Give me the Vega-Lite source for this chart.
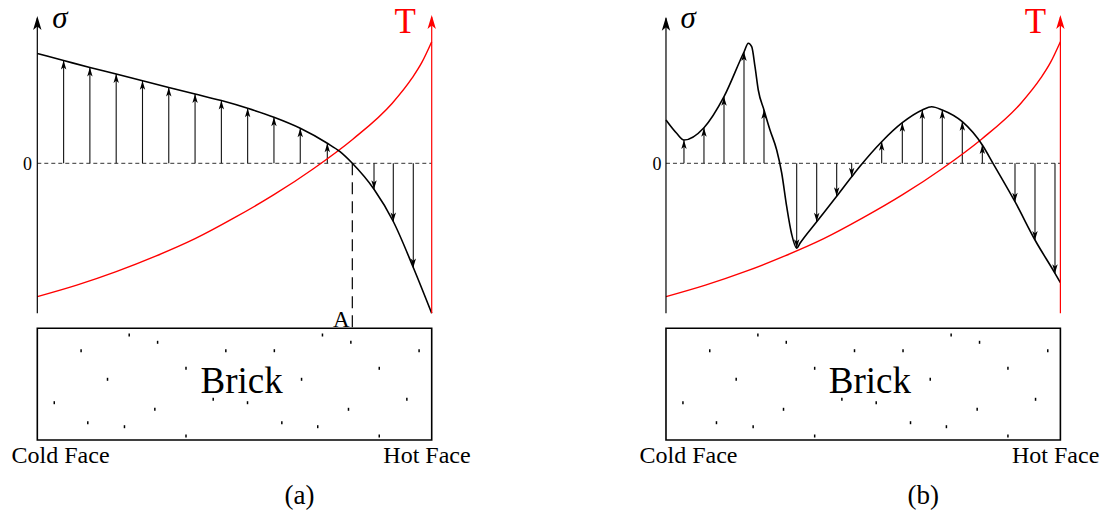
{
  "$schema": "https://vega.github.io/schema/vega-lite/v6.json",
  "padding": 0,
  "spacing": 0,
  "bounds": "flush",
  "config": {
    "font": "Liberation Serif, serif",
    "view": {"stroke": null},
    "concat": {"spacing": 0}
  },
  "datasets": {
    "temp": [
      {"u": 0, "s": -1.334}, {"u": 0.1, "s": -1.219}, {"u": 0.2, "s": -1.084},
      {"u": 0.3, "s": -0.929}, {"u": 0.4, "s": -0.754}, {"u": 0.5, "s": -0.544},
      {"u": 0.6, "s": -0.314}, {"u": 0.7, "s": -0.054}, {"u": 0.8, "s": 0.241},
      {"u": 0.9, "s": 0.601}, {"u": 0.95, "s": 0.851}, {"u": 0.975, "s": 1.009},
      {"u": 1.0, "s": 1.216}
    ],
    "dots": [
      {"u": 0.233, "s": -1.717}, {"u": 0.305, "s": -1.79}, {"u": 0.111, "s": -1.874},
      {"u": 0.478, "s": -1.874}, {"u": 0.601, "s": -1.874}, {"u": 0.723, "s": -1.717},
      {"u": 0.795, "s": -1.79}, {"u": 0.968, "s": -1.874}, {"u": 0.377, "s": -2.05},
      {"u": 0.178, "s": -2.16}, {"u": 0.67, "s": -2.16}, {"u": 0.867, "s": -2.05},
      {"u": 0.043, "s": -2.394}, {"u": 0.446, "s": -2.36}, {"u": 0.533, "s": -2.394},
      {"u": 0.298, "s": -2.46}, {"u": 0.789, "s": -2.46}, {"u": 0.937, "s": -2.36},
      {"u": 0.128, "s": -2.594}, {"u": 0.221, "s": -2.634}, {"u": 0.62, "s": -2.594},
      {"u": 0.711, "s": -2.634}, {"u": 0.377, "s": -2.727}, {"u": 0.867, "s": -2.727}
    ],
    "stressA": [
      {"u": 0, "s": 1.098},
      {"u": 0.0667, "s": 1.028, "dir": "up"}, {"u": 0.1333, "s": 0.958, "dir": "up"},
      {"u": 0.2, "s": 0.893, "dir": "up"}, {"u": 0.2667, "s": 0.825, "dir": "up"},
      {"u": 0.3333, "s": 0.758, "dir": "up"}, {"u": 0.4, "s": 0.693, "dir": "up"},
      {"u": 0.4667, "s": 0.627, "dir": "up"}, {"u": 0.5333, "s": 0.55, "dir": "up"},
      {"u": 0.6, "s": 0.46, "dir": "up"}, {"u": 0.6667, "s": 0.35, "dir": "up"},
      {"u": 0.7353, "s": 0.2, "dir": "up"},
      {"u": 0.7675, "s": 0.116}, {"u": 0.7987, "s": 0},
      {"u": 0.8537, "s": -0.26, "dir": "down"}, {"u": 0.9026, "s": -0.582, "dir": "down"},
      {"u": 0.9533, "s": -1.042, "dir": "down"},
      {"u": 1.0, "s": -1.5}
    ],
    "stressB": [
      {"u": 0, "s": 0.433}, {"u": 0.0271, "s": 0.3},
      {"u": 0.0456, "s": 0.233, "dir": "up"}, {"u": 0.0963, "s": 0.356, "dir": "up"},
      {"u": 0.1471, "s": 0.666, "dir": "up"}, {"u": 0.1978, "s": 1.113, "dir": "up"},
      {"u": 0.2087, "s": 1.2}, {"u": 0.2173, "s": 1.166}, {"u": 0.2257, "s": 0.966},
      {"u": 0.234, "s": 0.733}, {"u": 0.2485, "s": 0.533, "dir": "up"},
      {"u": 0.2637, "s": 0.333}, {"u": 0.2807, "s": 0.133}, {"u": 0.2934, "s": -0.097},
      {"u": 0.3061, "s": -0.434}, {"u": 0.3187, "s": -0.71},
      {"u": 0.3314, "s": -0.85, "dir": "down"}, {"u": 0.3398, "s": -0.8},
      {"u": 0.3821, "s": -0.585, "dir": "down"}, {"u": 0.4328, "s": -0.33, "dir": "down"},
      {"u": 0.4708, "s": -0.135, "dir": "down"}, {"u": 0.4919, "s": -0.03},
      {"u": 0.5469, "s": 0.216, "dir": "up"}, {"u": 0.5992, "s": 0.406, "dir": "up"},
      {"u": 0.6499, "s": 0.533, "dir": "up"}, {"u": 0.6737, "s": 0.566},
      {"u": 0.7006, "s": 0.533, "dir": "up"}, {"u": 0.7513, "s": 0.416, "dir": "up"},
      {"u": 0.8021, "s": 0.183, "dir": "up"}, {"u": 0.8291, "s": 0},
      {"u": 0.8849, "s": -0.384, "dir": "down"}, {"u": 0.9356, "s": -0.767, "dir": "down"},
      {"u": 0.9863, "s": -1.1, "dir": "down"}, {"u": 1.0, "s": -1.194}
    ]
  },
  "hconcat": [
    {
      "width": 552,
      "height": 512,
      "layer": [
        {
          "data": {"values": [{}]},
          "mark": {"type": "rule", "color": "#333", "strokeWidth": 1, "strokeDash": [4, 3]},
          "encoding": {
            "x": {"datum": 0, "type": "quantitative", "scale": {"domain": [-0.0946, 1.305], "nice": false, "zero": false}, "axis": null},
            "x2": {"datum": 1},
            "y": {"datum": 0, "type": "quantitative", "scale": {"domain": [-3.487, 1.633], "nice": false, "zero": false}, "axis": null}
          }
        },
        {
          "data": {"values": [{}]},
          "mark": {"type": "rule", "color": "#000", "strokeWidth": 1.2, "strokeDash": [12, 7]},
          "encoding": {
            "x": {"datum": 0.7987, "type": "quantitative", "scale": {"domain": [-0.0946, 1.305], "nice": false, "zero": false}, "axis": null},
            "y": {"datum": 0, "type": "quantitative", "scale": {"domain": [-3.487, 1.633], "nice": false, "zero": false}, "axis": null},
            "y2": {"datum": -1.65}
          }
        },
        {
          "data": {"name": "stressA"},
          "transform": [{"filter": {"field": "dir", "oneOf": ["up", "down"]}}],
          "mark": {"type": "rule", "color": "#111", "strokeWidth": 1.1},
          "encoding": {
            "x": {"field": "u", "type": "quantitative", "scale": {"domain": [-0.0946, 1.305], "nice": false, "zero": false}, "axis": null},
            "y": {"field": "s", "type": "quantitative", "scale": {"domain": [-3.487, 1.633], "nice": false, "zero": false}, "axis": null},
            "y2": {"datum": 0}
          }
        },
        {
          "data": {"name": "temp"},
          "mark": {"type": "line", "color": "#ff0000", "strokeWidth": 1.4, "interpolate": "monotone"},
          "encoding": {
            "x": {"field": "u", "type": "quantitative", "scale": {"domain": [-0.0946, 1.305], "nice": false, "zero": false}, "axis": null},
            "y": {"field": "s", "type": "quantitative", "scale": {"domain": [-3.487, 1.633], "nice": false, "zero": false}, "axis": null}
          }
        },
        {
          "data": {"name": "stressA"},
          "mark": {"type": "line", "color": "#000", "strokeWidth": 1.6, "interpolate": "monotone"},
          "encoding": {
            "x": {"field": "u", "type": "quantitative", "scale": {"domain": [-0.0946, 1.305], "nice": false, "zero": false}, "axis": null},
            "y": {"field": "s", "type": "quantitative", "scale": {"domain": [-3.487, 1.633], "nice": false, "zero": false}, "axis": null}
          }
        },
        {
          "data": {"name": "stressA"},
          "transform": [{"filter": {"field": "dir", "oneOf": ["up", "down"]}}],
          "mark": {"type": "point", "filled": true, "opacity": 1, "color": "#000", "size": 81},
          "encoding": {
            "x": {"field": "u", "type": "quantitative", "scale": {"domain": [-0.0946, 1.305], "nice": false, "zero": false}, "axis": null},
            "y": {"field": "s", "type": "quantitative", "scale": {"domain": [-3.487, 1.633], "nice": false, "zero": false}, "axis": null},
            "shape": {"field": "dir", "type": "nominal", "scale": {"domain": ["up", "down"], "range": ["M0,0L0.6,2L0,1.5L-0.6,2Z", "M0,0L0.6,-2L0,-1.5L-0.6,-2Z"]}, "legend": null}
          }
        },
        {
          "data": {"values": [{}]},
          "mark": {"type": "rule", "color": "#000", "strokeWidth": 1.2},
          "encoding": {
            "x": {"datum": 0, "type": "quantitative", "scale": {"domain": [-0.0946, 1.305], "nice": false, "zero": false}, "axis": null},
            "y": {"datum": -1.5, "type": "quantitative", "scale": {"domain": [-3.487, 1.633], "nice": false, "zero": false}, "axis": null},
            "y2": {"datum": 1.45}
          }
        },
        {
          "data": {"values": [{}]},
          "mark": {"type": "point", "filled": true, "opacity": 1, "color": "#000", "size": 196, "shape": "M0,0L0.6,2L0,1.5L-0.6,2Z"},
          "encoding": {
            "x": {"datum": 0, "type": "quantitative", "scale": {"domain": [-0.0946, 1.305], "nice": false, "zero": false}, "axis": null},
            "y": {"datum": 1.473, "type": "quantitative", "scale": {"domain": [-3.487, 1.633], "nice": false, "zero": false}, "axis": null}
          }
        },
        {
          "data": {"values": [{}]},
          "mark": {"type": "rule", "color": "#ff0000", "strokeWidth": 1.2},
          "encoding": {
            "x": {"datum": 1, "type": "quantitative", "scale": {"domain": [-0.0946, 1.305], "nice": false, "zero": false}, "axis": null},
            "y": {"datum": -1.5, "type": "quantitative", "scale": {"domain": [-3.487, 1.633], "nice": false, "zero": false}, "axis": null},
            "y2": {"datum": 1.46}
          }
        },
        {
          "data": {"values": [{}]},
          "mark": {"type": "point", "filled": true, "opacity": 1, "color": "#ff0000", "size": 196, "shape": "M0,0L0.6,2L0,1.5L-0.6,2Z"},
          "encoding": {
            "x": {"datum": 1, "type": "quantitative", "scale": {"domain": [-0.0946, 1.305], "nice": false, "zero": false}, "axis": null},
            "y": {"datum": 1.483, "type": "quantitative", "scale": {"domain": [-3.487, 1.633], "nice": false, "zero": false}, "axis": null}
          }
        },
        {
          "data": {"values": [{}]},
          "mark": {"type": "rect", "filled": false, "stroke": "#000", "strokeWidth": 1.6},
          "encoding": {
            "x": {"datum": 0, "type": "quantitative", "scale": {"domain": [-0.0946, 1.305], "nice": false, "zero": false}, "axis": null},
            "x2": {"datum": 1},
            "y": {"datum": -1.65, "type": "quantitative", "scale": {"domain": [-3.487, 1.633], "nice": false, "zero": false}, "axis": null},
            "y2": {"datum": -2.767}
          }
        },
        {
          "data": {"name": "dots"},
          "mark": {"type": "point", "filled": true, "opacity": 1, "color": "#000", "size": 9, "shape": "M-0.5,-1L0.5,-1L0.5,1L-0.5,1Z"},
          "encoding": {
            "x": {"field": "u", "type": "quantitative", "scale": {"domain": [-0.0946, 1.305], "nice": false, "zero": false}, "axis": null},
            "y": {"field": "s", "type": "quantitative", "scale": {"domain": [-3.487, 1.633], "nice": false, "zero": false}, "axis": null}
          }
        },
        {
          "data": {"values": [{}]},
          "mark": {"type": "text", "text": "σ", "font": "Liberation Serif, serif", "fontSize": 31, "fontStyle": "italic", "align": "center", "baseline": "alphabetic", "color": "#000"},
          "encoding": {
            "x": {"datum": 0.057, "type": "quantitative", "scale": {"domain": [-0.0946, 1.305], "nice": false, "zero": false}, "axis": null},
            "y": {"datum": 1.353, "type": "quantitative", "scale": {"domain": [-3.487, 1.633], "nice": false, "zero": false}, "axis": null}
          }
        },
        {
          "data": {"values": [{}]},
          "mark": {"type": "text", "text": "T", "font": "Liberation Serif, serif", "fontSize": 35, "color": "#ff0000", "align": "center", "baseline": "alphabetic"},
          "encoding": {
            "x": {"datum": 0.933, "type": "quantitative", "scale": {"domain": [-0.0946, 1.305], "nice": false, "zero": false}, "axis": null},
            "y": {"datum": 1.303, "type": "quantitative", "scale": {"domain": [-3.487, 1.633], "nice": false, "zero": false}, "axis": null}
          }
        },
        {
          "data": {"values": [{}]},
          "mark": {"type": "text", "text": "0", "font": "Liberation Serif, serif", "fontSize": 18, "align": "center", "baseline": "alphabetic", "color": "#000"},
          "encoding": {
            "x": {"datum": -0.025, "type": "quantitative", "scale": {"domain": [-0.0946, 1.305], "nice": false, "zero": false}, "axis": null},
            "y": {"datum": -0.067, "type": "quantitative", "scale": {"domain": [-3.487, 1.633], "nice": false, "zero": false}, "axis": null}
          }
        },
        {
          "data": {"values": [{}]},
          "mark": {"type": "text", "text": "A", "font": "Liberation Serif, serif", "fontSize": 23, "align": "center", "baseline": "alphabetic", "color": "#000"},
          "encoding": {
            "x": {"datum": 0.771, "type": "quantitative", "scale": {"domain": [-0.0946, 1.305], "nice": false, "zero": false}, "axis": null},
            "y": {"datum": -1.634, "type": "quantitative", "scale": {"domain": [-3.487, 1.633], "nice": false, "zero": false}, "axis": null}
          }
        },
        {
          "data": {"values": [{}]},
          "mark": {"type": "text", "text": "Brick", "font": "Liberation Serif, serif", "fontSize": 37, "align": "center", "baseline": "alphabetic", "color": "#000"},
          "encoding": {
            "x": {"datum": 0.518, "type": "quantitative", "scale": {"domain": [-0.0946, 1.305], "nice": false, "zero": false}, "axis": null},
            "y": {"datum": -2.3, "type": "quantitative", "scale": {"domain": [-3.487, 1.633], "nice": false, "zero": false}, "axis": null}
          }
        },
        {
          "data": {"values": [{}]},
          "mark": {"type": "text", "text": "Cold Face", "font": "Liberation Serif, serif", "fontSize": 24, "align": "center", "baseline": "alphabetic", "color": "#000"},
          "encoding": {
            "x": {"datum": 0.059, "type": "quantitative", "scale": {"domain": [-0.0946, 1.305], "nice": false, "zero": false}, "axis": null},
            "y": {"datum": -3.0, "type": "quantitative", "scale": {"domain": [-3.487, 1.633], "nice": false, "zero": false}, "axis": null}
          }
        },
        {
          "data": {"values": [{}]},
          "mark": {"type": "text", "text": "Hot Face", "font": "Liberation Serif, serif", "fontSize": 24, "align": "center", "baseline": "alphabetic", "color": "#000"},
          "encoding": {
            "x": {"datum": 0.988, "type": "quantitative", "scale": {"domain": [-0.0946, 1.305], "nice": false, "zero": false}, "axis": null},
            "y": {"datum": -3.0, "type": "quantitative", "scale": {"domain": [-3.487, 1.633], "nice": false, "zero": false}, "axis": null}
          }
        },
        {
          "data": {"values": [{}]},
          "mark": {"type": "text", "text": "(a)", "font": "Liberation Serif, serif", "fontSize": 27, "align": "center", "baseline": "alphabetic", "color": "#000"},
          "encoding": {
            "x": {"datum": 0.665, "type": "quantitative", "scale": {"domain": [-0.0946, 1.305], "nice": false, "zero": false}, "axis": null},
            "y": {"datum": -3.402, "type": "quantitative", "scale": {"domain": [-3.487, 1.633], "nice": false, "zero": false}, "axis": null}
          }
        }
      ]
    },
    {
      "width": 553,
      "height": 512,
      "layer": [
        {
          "data": {"values": [{}]},
          "mark": {"type": "rule", "color": "#333", "strokeWidth": 1, "strokeDash": [4, 3]},
          "encoding": {
            "x": {"datum": 0, "type": "quantitative", "scale": {"domain": [-0.289, 1.1131], "nice": false, "zero": false}, "axis": null},
            "x2": {"datum": 1},
            "y": {"datum": 0, "type": "quantitative", "scale": {"domain": [-3.487, 1.633], "nice": false, "zero": false}, "axis": null}
          }
        },
        {
          "data": {"name": "stressB"},
          "transform": [{"filter": {"field": "dir", "oneOf": ["up", "down"]}}],
          "mark": {"type": "rule", "color": "#111", "strokeWidth": 1.1},
          "encoding": {
            "x": {"field": "u", "type": "quantitative", "scale": {"domain": [-0.289, 1.1131], "nice": false, "zero": false}, "axis": null},
            "y": {"field": "s", "type": "quantitative", "scale": {"domain": [-3.487, 1.633], "nice": false, "zero": false}, "axis": null},
            "y2": {"datum": 0}
          }
        },
        {
          "data": {"name": "temp"},
          "mark": {"type": "line", "color": "#ff0000", "strokeWidth": 1.4, "interpolate": "monotone"},
          "encoding": {
            "x": {"field": "u", "type": "quantitative", "scale": {"domain": [-0.289, 1.1131], "nice": false, "zero": false}, "axis": null},
            "y": {"field": "s", "type": "quantitative", "scale": {"domain": [-3.487, 1.633], "nice": false, "zero": false}, "axis": null}
          }
        },
        {
          "data": {"name": "stressB"},
          "mark": {"type": "line", "color": "#000", "strokeWidth": 1.6, "interpolate": "monotone"},
          "encoding": {
            "x": {"field": "u", "type": "quantitative", "scale": {"domain": [-0.289, 1.1131], "nice": false, "zero": false}, "axis": null},
            "y": {"field": "s", "type": "quantitative", "scale": {"domain": [-3.487, 1.633], "nice": false, "zero": false}, "axis": null}
          }
        },
        {
          "data": {"name": "stressB"},
          "transform": [{"filter": {"field": "dir", "oneOf": ["up", "down"]}}],
          "mark": {"type": "point", "filled": true, "opacity": 1, "color": "#000", "size": 81},
          "encoding": {
            "x": {"field": "u", "type": "quantitative", "scale": {"domain": [-0.289, 1.1131], "nice": false, "zero": false}, "axis": null},
            "y": {"field": "s", "type": "quantitative", "scale": {"domain": [-3.487, 1.633], "nice": false, "zero": false}, "axis": null},
            "shape": {"field": "dir", "type": "nominal", "scale": {"domain": ["up", "down"], "range": ["M0,0L0.6,2L0,1.5L-0.6,2Z", "M0,0L0.6,-2L0,-1.5L-0.6,-2Z"]}, "legend": null}
          }
        },
        {
          "data": {"values": [{}]},
          "mark": {"type": "rule", "color": "#000", "strokeWidth": 1.2},
          "encoding": {
            "x": {"datum": 0, "type": "quantitative", "scale": {"domain": [-0.289, 1.1131], "nice": false, "zero": false}, "axis": null},
            "y": {"datum": -1.5, "type": "quantitative", "scale": {"domain": [-3.487, 1.633], "nice": false, "zero": false}, "axis": null},
            "y2": {"datum": 1.45}
          }
        },
        {
          "data": {"values": [{}]},
          "mark": {"type": "point", "filled": true, "opacity": 1, "color": "#000", "size": 196, "shape": "M0,0L0.6,2L0,1.5L-0.6,2Z"},
          "encoding": {
            "x": {"datum": 0, "type": "quantitative", "scale": {"domain": [-0.289, 1.1131], "nice": false, "zero": false}, "axis": null},
            "y": {"datum": 1.466, "type": "quantitative", "scale": {"domain": [-3.487, 1.633], "nice": false, "zero": false}, "axis": null}
          }
        },
        {
          "data": {"values": [{}]},
          "mark": {"type": "rule", "color": "#ff0000", "strokeWidth": 1.2},
          "encoding": {
            "x": {"datum": 1, "type": "quantitative", "scale": {"domain": [-0.289, 1.1131], "nice": false, "zero": false}, "axis": null},
            "y": {"datum": -1.5, "type": "quantitative", "scale": {"domain": [-3.487, 1.633], "nice": false, "zero": false}, "axis": null},
            "y2": {"datum": 1.46}
          }
        },
        {
          "data": {"values": [{}]},
          "mark": {"type": "point", "filled": true, "opacity": 1, "color": "#ff0000", "size": 196, "shape": "M0,0L0.6,2L0,1.5L-0.6,2Z"},
          "encoding": {
            "x": {"datum": 1, "type": "quantitative", "scale": {"domain": [-0.289, 1.1131], "nice": false, "zero": false}, "axis": null},
            "y": {"datum": 1.483, "type": "quantitative", "scale": {"domain": [-3.487, 1.633], "nice": false, "zero": false}, "axis": null}
          }
        },
        {
          "data": {"values": [{}]},
          "mark": {"type": "rect", "filled": false, "stroke": "#000", "strokeWidth": 1.6},
          "encoding": {
            "x": {"datum": 0, "type": "quantitative", "scale": {"domain": [-0.289, 1.1131], "nice": false, "zero": false}, "axis": null},
            "x2": {"datum": 1},
            "y": {"datum": -1.65, "type": "quantitative", "scale": {"domain": [-3.487, 1.633], "nice": false, "zero": false}, "axis": null},
            "y2": {"datum": -2.767}
          }
        },
        {
          "data": {"name": "dots"},
          "mark": {"type": "point", "filled": true, "opacity": 1, "color": "#000", "size": 9, "shape": "M-0.5,-1L0.5,-1L0.5,1L-0.5,1Z"},
          "encoding": {
            "x": {"field": "u", "type": "quantitative", "scale": {"domain": [-0.289, 1.1131], "nice": false, "zero": false}, "axis": null},
            "y": {"field": "s", "type": "quantitative", "scale": {"domain": [-3.487, 1.633], "nice": false, "zero": false}, "axis": null}
          }
        },
        {
          "data": {"values": [{}]},
          "mark": {"type": "text", "text": "σ", "font": "Liberation Serif, serif", "fontSize": 31, "fontStyle": "italic", "align": "center", "baseline": "alphabetic", "color": "#000"},
          "encoding": {
            "x": {"datum": 0.056, "type": "quantitative", "scale": {"domain": [-0.289, 1.1131], "nice": false, "zero": false}, "axis": null},
            "y": {"datum": 1.353, "type": "quantitative", "scale": {"domain": [-3.487, 1.633], "nice": false, "zero": false}, "axis": null}
          }
        },
        {
          "data": {"values": [{}]},
          "mark": {"type": "text", "text": "T", "font": "Liberation Serif, serif", "fontSize": 35, "color": "#ff0000", "align": "center", "baseline": "alphabetic"},
          "encoding": {
            "x": {"datum": 0.937, "type": "quantitative", "scale": {"domain": [-0.289, 1.1131], "nice": false, "zero": false}, "axis": null},
            "y": {"datum": 1.303, "type": "quantitative", "scale": {"domain": [-3.487, 1.633], "nice": false, "zero": false}, "axis": null}
          }
        },
        {
          "data": {"values": [{}]},
          "mark": {"type": "text", "text": "0", "font": "Liberation Serif, serif", "fontSize": 18, "align": "center", "baseline": "alphabetic", "color": "#000"},
          "encoding": {
            "x": {"datum": -0.023, "type": "quantitative", "scale": {"domain": [-0.289, 1.1131], "nice": false, "zero": false}, "axis": null},
            "y": {"datum": -0.067, "type": "quantitative", "scale": {"domain": [-3.487, 1.633], "nice": false, "zero": false}, "axis": null}
          }
        },
        {
          "data": {"values": [{}]},
          "mark": {"type": "text", "text": "Brick", "font": "Liberation Serif, serif", "fontSize": 37, "align": "center", "baseline": "alphabetic", "color": "#000"},
          "encoding": {
            "x": {"datum": 0.517, "type": "quantitative", "scale": {"domain": [-0.289, 1.1131], "nice": false, "zero": false}, "axis": null},
            "y": {"datum": -2.3, "type": "quantitative", "scale": {"domain": [-3.487, 1.633], "nice": false, "zero": false}, "axis": null}
          }
        },
        {
          "data": {"values": [{}]},
          "mark": {"type": "text", "text": "Cold Face", "font": "Liberation Serif, serif", "fontSize": 24, "align": "center", "baseline": "alphabetic", "color": "#000"},
          "encoding": {
            "x": {"datum": 0.057, "type": "quantitative", "scale": {"domain": [-0.289, 1.1131], "nice": false, "zero": false}, "axis": null},
            "y": {"datum": -3.0, "type": "quantitative", "scale": {"domain": [-3.487, 1.633], "nice": false, "zero": false}, "axis": null}
          }
        },
        {
          "data": {"values": [{}]},
          "mark": {"type": "text", "text": "Hot Face", "font": "Liberation Serif, serif", "fontSize": 24, "align": "center", "baseline": "alphabetic", "color": "#000"},
          "encoding": {
            "x": {"datum": 0.988, "type": "quantitative", "scale": {"domain": [-0.289, 1.1131], "nice": false, "zero": false}, "axis": null},
            "y": {"datum": -3.0, "type": "quantitative", "scale": {"domain": [-3.487, 1.633], "nice": false, "zero": false}, "axis": null}
          }
        },
        {
          "data": {"values": [{}]},
          "mark": {"type": "text", "text": "(b)", "font": "Liberation Serif, serif", "fontSize": 27, "align": "center", "baseline": "alphabetic", "color": "#000"},
          "encoding": {
            "x": {"datum": 0.652, "type": "quantitative", "scale": {"domain": [-0.289, 1.1131], "nice": false, "zero": false}, "axis": null},
            "y": {"datum": -3.402, "type": "quantitative", "scale": {"domain": [-3.487, 1.633], "nice": false, "zero": false}, "axis": null}
          }
        }
      ]
    }
  ]
}
